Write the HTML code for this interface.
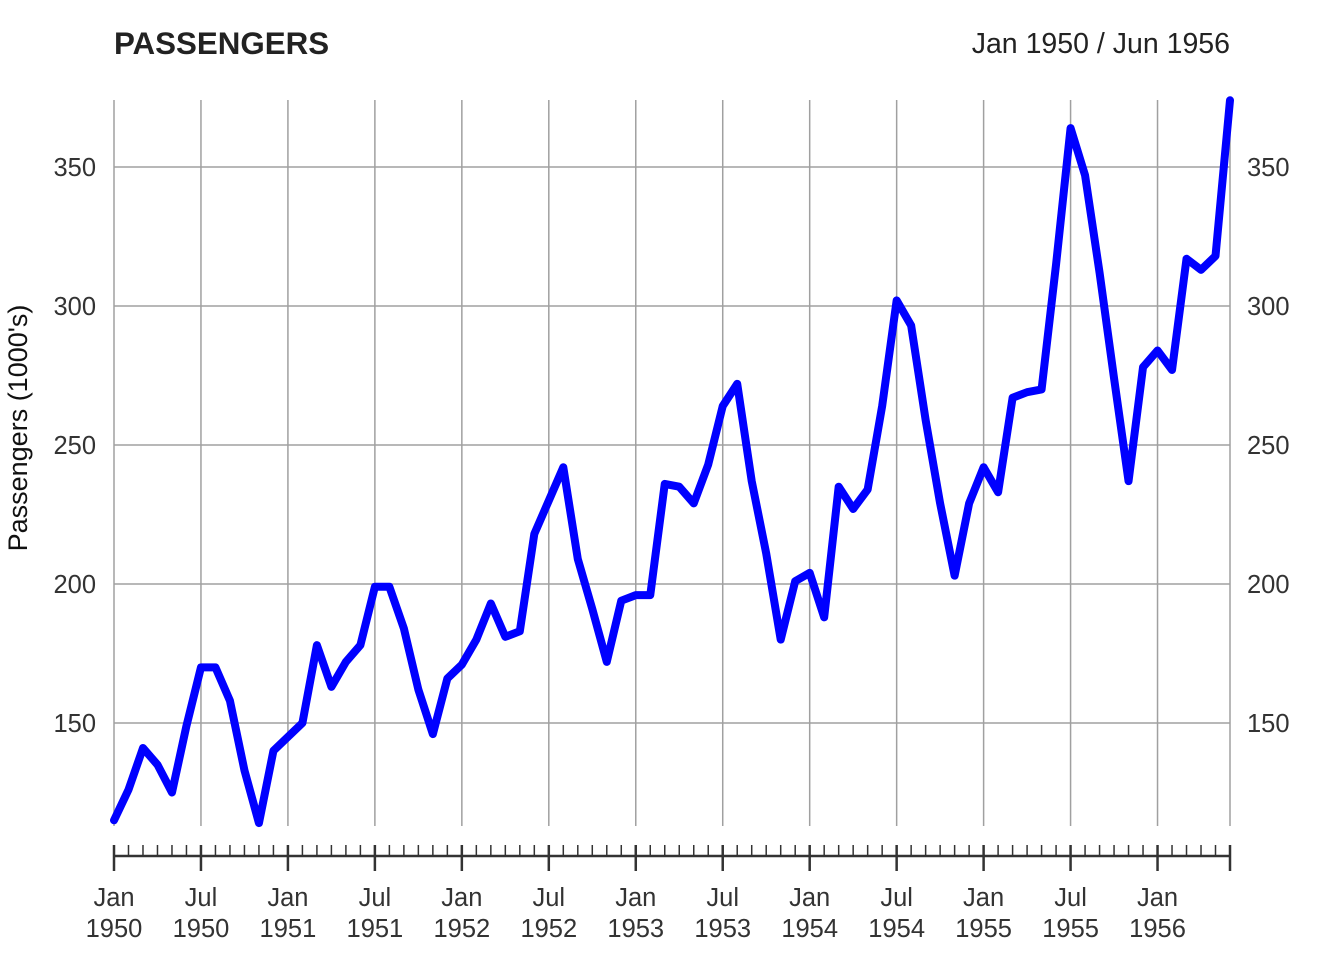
<!DOCTYPE html>
<html><head><meta charset="utf-8"><style>
body{margin:0;background:#fff;}
svg text{font-family:"Liberation Sans",Arial,sans-serif;fill:#333;}
</style></head><body>
<svg id="chart" width="1344" height="960" xmlns="http://www.w3.org/2000/svg">
<text x="114" y="54" font-size="31.3" font-weight="bold" style="fill:#222">PASSENGERS</text>
<text x="1230" y="53" font-size="28.5" text-anchor="end" style="fill:#222">Jan 1950 / Jun 1956</text>
<text transform="translate(27,428) rotate(-90)" font-size="27" text-anchor="middle" style="fill:#111">Passengers (1000's)</text>
<g id="grid"></g><g id="axes"></g><g id="series"></g>
</svg>
<script>
const startYear = 1950;
const passengers = [115,126,141,135,125,149,170,170,158,133,114,140,
145,150,178,163,172,178,199,199,184,162,146,166,
171,180,193,181,183,218,230,242,209,191,172,194,
196,196,236,235,229,243,264,272,237,211,180,201,
204,188,235,227,234,264,302,293,259,229,203,229,
242,233,267,269,270,315,364,347,312,274,237,278,
284,277,317,313,318,374];
const yTicks = [150,200,250,300,350];
const monthNames = ["Jan","Jul"];

const NS="http://www.w3.org/2000/svg";
const X0=114,X1=1230;
const n=passengers.length;
const x=i=>X0+(X1-X0)*i/(n-1);
const y=v=>723-(v-150)*(556/200);
function mk(tag,attrs,parent){const e=document.createElementNS(NS,tag);for(const k in attrs)e.setAttribute(k,attrs[k]);parent.appendChild(e);return e;}
const grid=document.getElementById('grid'),axes=document.getElementById('axes'),series=document.getElementById('series');

yTicks.forEach(t=>{
  const l=mk('line',{x1:X0,x2:X1,y1:y(t),y2:y(t),stroke:'#a0a0a0','stroke-width':1.5},grid);
  
  
  const a=mk('text',{x:96,y:y(t)+9,'font-size':25.5,'text-anchor':'end'},axes);a.textContent=t;
  
  
  const b=mk('text',{x:1247,y:y(t)+9,'font-size':25.5,'text-anchor':'start'},axes);b.textContent=t;
  
  
});
const bl=mk('line',{x1:X0,x2:X1,y1:856,y2:856,stroke:'#333','stroke-width':2.5},axes);


for(let i=0;i<n;i++){
  const major=i%6===0||i===n-1;
  const tk=mk('line',{x1:x(i),x2:x(i),y1:845,y2:major?871:856,stroke:'#333','stroke-width':major?2.5:1.5},axes);
  
  
  if(i%6===0){
    const g=mk('line',{x1:x(i),x2:x(i),y1:100,y2:826,stroke:'#a0a0a0','stroke-width':1.5},grid);
    
    
    const t1=mk('text',{x:x(i),y:906,'font-size':25.5,'text-anchor':'middle'},axes);t1.textContent=monthNames[(i/6)%2];
    
    
    const t2=mk('text',{x:x(i),y:937,'font-size':25.5,'text-anchor':'middle'},axes);t2.textContent=startYear+Math.floor(i/12);
    
    
  }
}
const g2=mk('line',{x1:X1,x2:X1,y1:100,y2:826,stroke:'#a0a0a0','stroke-width':1.5},grid);


const p=mk('polyline',{points:passengers.map((v,i)=>x(i)+','+y(v)).join(' '),fill:'none',stroke:'#0000ff','stroke-width':8,'stroke-linejoin':'round','stroke-linecap':'round'},series);


</script>
</body></html>
